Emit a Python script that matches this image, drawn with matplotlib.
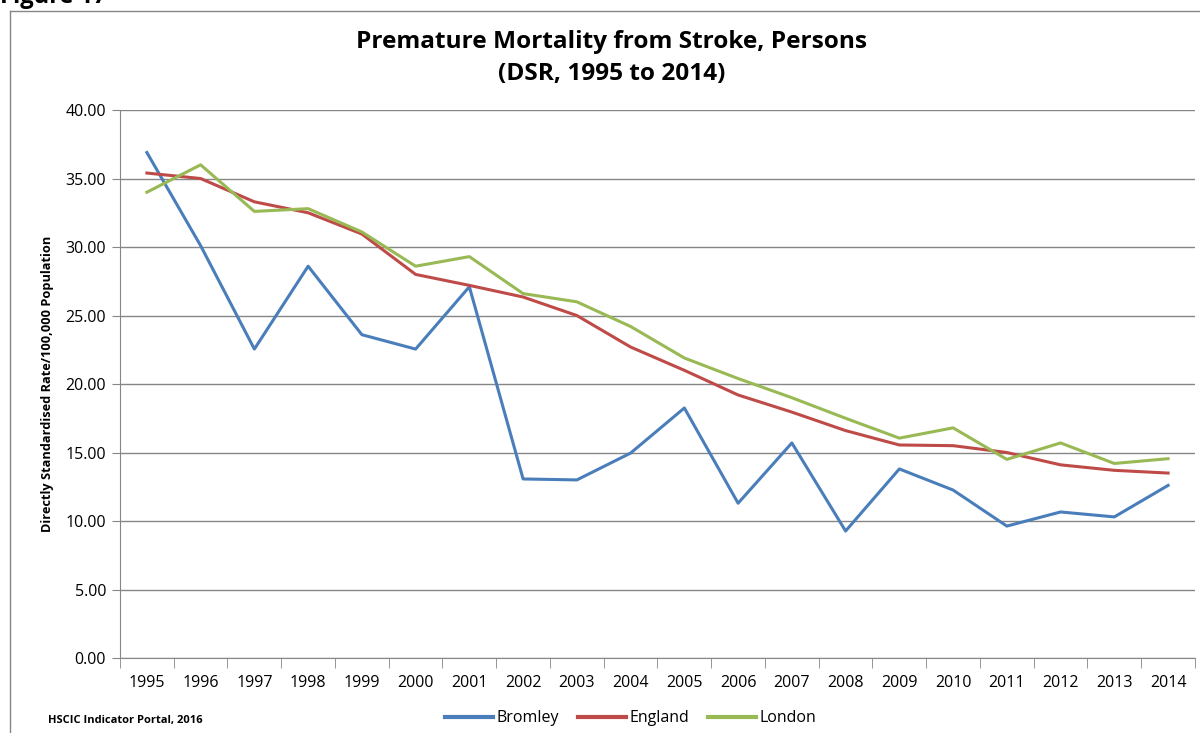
import matplotlib.pyplot as plt
from matplotlib.lines import Line2D
import numpy as np

plt.rcParams['font.family'] = ['Open Sans', 'DejaVu Sans']

years = ['1995', '1996', '1997', '1998', '1999', '2000', '2001', '2002', '2003', '2004',
         '2005', '2006', '2007', '2008', '2009', '2010', '2011', '2012', '2013', '2014']
bromley = [36.9, 30.1, 22.55, 28.6, 23.6, 22.55, 27.1, 13.07, 13.0, 14.96,
           18.25, 11.3, 15.7, 9.27, 13.8, 12.26, 9.63, 10.66, 10.3, 12.6]
england = [35.4, 35.0, 33.3, 32.5, 30.95, 28.0, 27.2, 26.35, 25.0, 22.7,
           21.0, 19.2, 17.95, 16.6, 15.55, 15.5, 15.0, 14.1, 13.7, 13.5]
london = [34.0, 36.0, 32.6, 32.8, 31.1, 28.6, 29.3, 26.6, 26.0, 24.2,
          21.9, 20.4, 19.0, 17.5, 16.05, 16.8, 14.5, 15.7, 14.2, 14.55]

GRAY = '#868686'

fig = plt.figure(figsize=(12, 7.33), dpi=100)
ax = fig.add_axes([0.1, 0.1023, 0.8958, 0.7476])

x = np.arange(len(years))
ax.plot(x, bromley, color='#4A7EBB', lw=2.2, label='Bromley')
ax.plot(x, england, color='#BE4B48', lw=2.2, label='England')
ax.plot(x, london, color='#98B954', lw=2.2, label='London')

ax.set_xlim(-0.5, len(years) - 0.5)
ax.set_ylim(0, 40)
ax.set_yticks(np.arange(0, 40.1, 5))
ax.set_yticklabels(['%.2f' % v for v in np.arange(0, 40.1, 5)], fontsize=11.5)
ax.set_xticks(x)
ax.set_xticklabels(years, fontsize=11.5)
ax.set_xticks(np.arange(-0.5, len(years), 1), minor=True)
ax.tick_params(axis='x', which='major', length=0, pad=12)
ax.tick_params(axis='x', which='minor', length=7, color=GRAY)
ax.tick_params(axis='y', length=6, color=GRAY, pad=4)

ax.grid(axis='y', color=GRAY, lw=1)
ax.set_axisbelow(True)
for s in ['top', 'right']:
    ax.spines[s].set_visible(False)
ax.spines['left'].set_color(GRAY)
ax.spines['bottom'].set_color(GRAY)

ax.set_ylabel('Directly Standardised Rate/100,000 Population', fontsize=9.2,
              fontweight='bold', labelpad=8)

fig.text(0.51, 0.921, 'Premature Mortality from Stroke, Persons\n(DSR, 1995 to 2014)',
         ha='center', va='center', fontsize=17.6, fontweight='bold', linespacing=1.4)

leg = ax.legend(loc='center', bbox_to_anchor=(0.475, -0.11), ncol=3, frameon=False,
                fontsize=11.5, handlelength=3, handletextpad=0.2, columnspacing=1.2)
for h in leg.get_lines():
    h.set_linewidth(3)

fig.text(0.04, 0.017, 'HSCIC Indicator Portal, 2016', fontsize=8, fontweight='bold',
         ha='left', va='center')

# chart border and cut-off caption
fig.add_artist(Line2D([10 / 1200, 10 / 1200], [0, 1 - 11 / 733], color=GRAY, lw=1))
fig.add_artist(Line2D([10 / 1200, 1], [1 - 11 / 733, 1 - 11 / 733], color=GRAY, lw=1))
fig.text(0.0, 1 - 9 / 733, 'Figure 17', fontsize=17, fontweight='bold', ha='left', va='bottom')

plt.savefig('out.png', dpi=100)
